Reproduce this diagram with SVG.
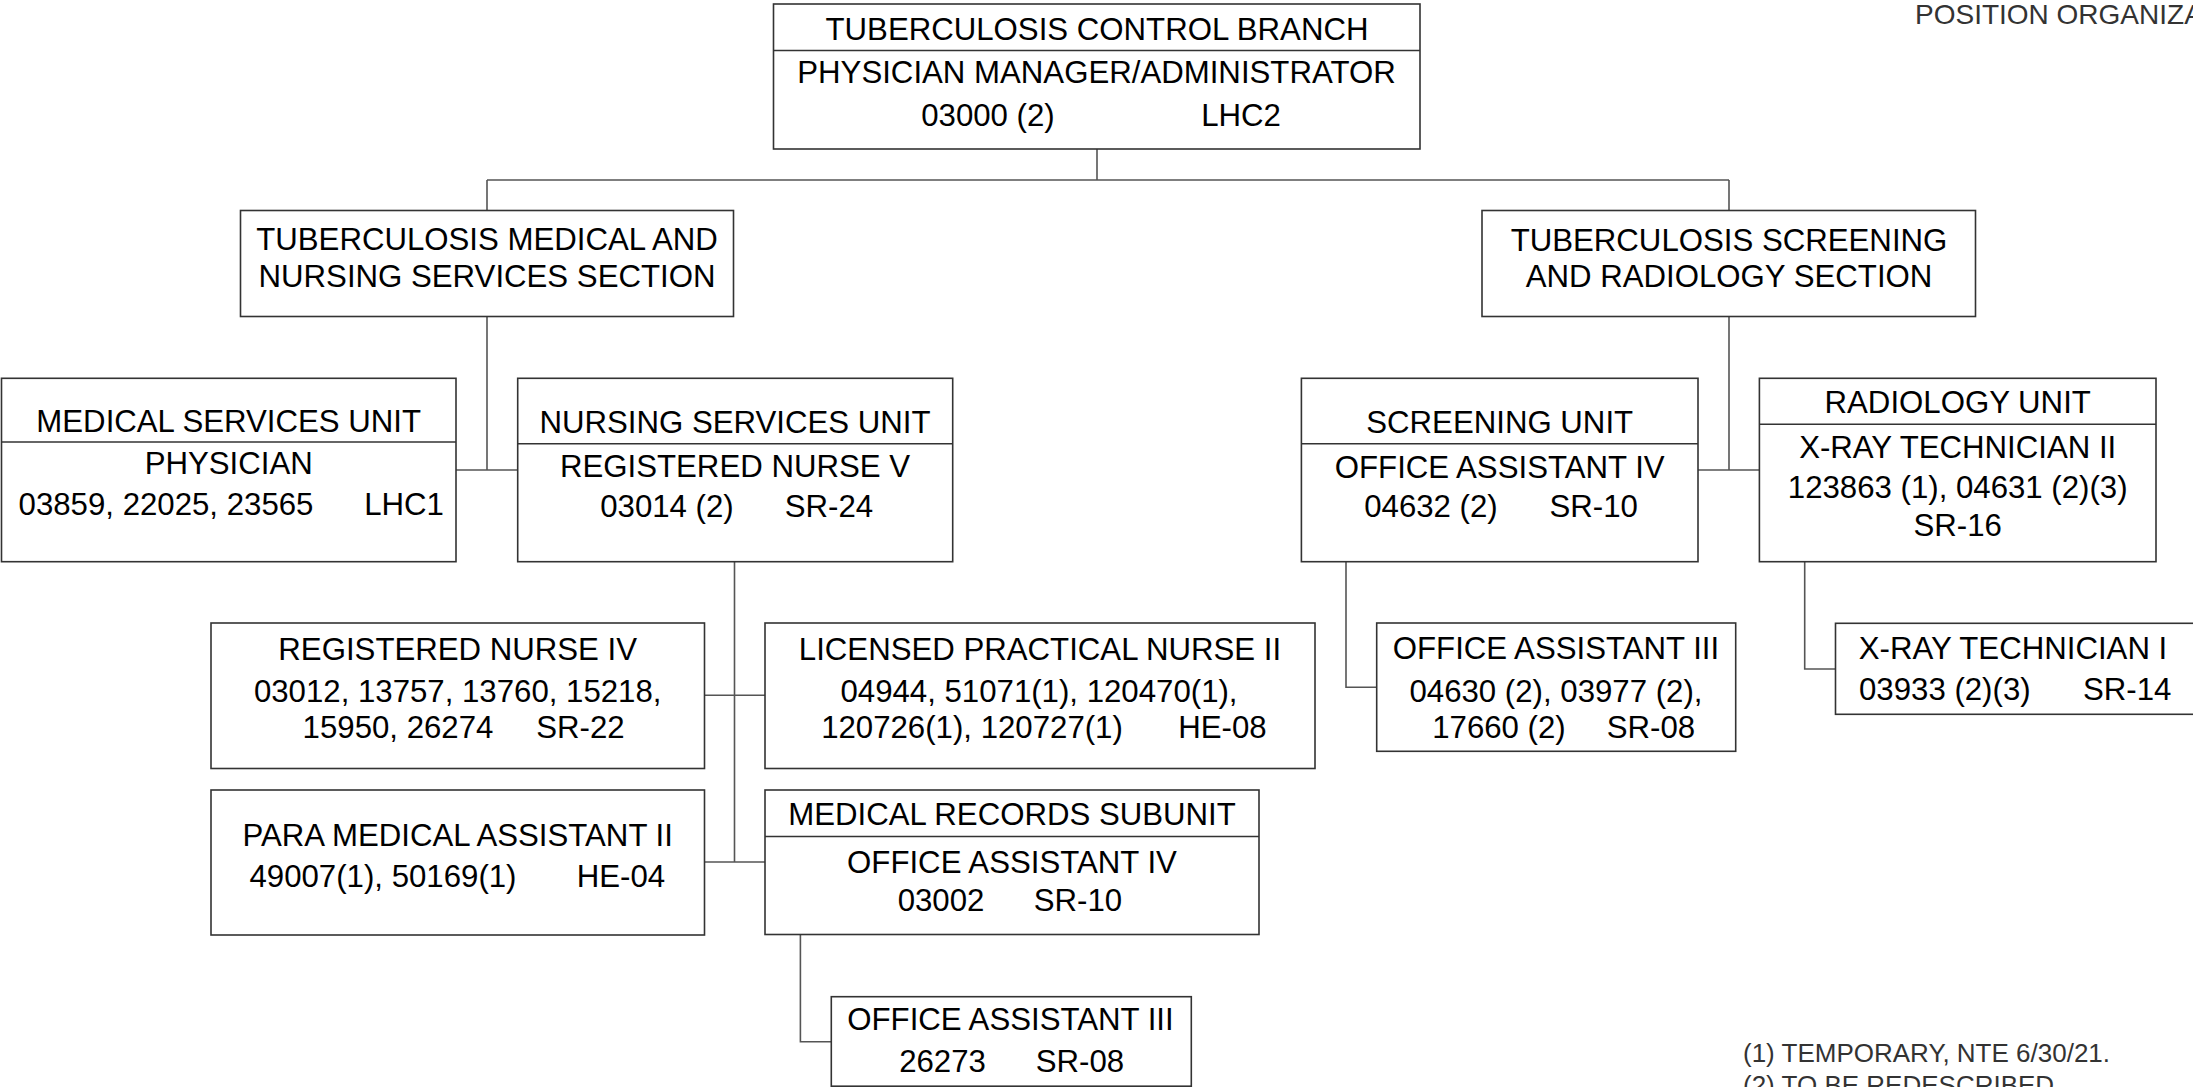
<svg xmlns="http://www.w3.org/2000/svg" width="2193" height="1087" viewBox="0 0 2193 1087">
<style>
.box{fill:#fff;stroke:#333;stroke-width:1.6}
.div{stroke:#333;stroke-width:1.6}
.t{font-family:"Liberation Sans",Arial,sans-serif;font-size:31.2px;fill:#000;text-anchor:middle}
.s{text-anchor:start}
.note{font-family:"Liberation Sans",Arial,sans-serif;fill:#333}
#connectors path{fill:none;stroke:#555;stroke-width:1.6}
</style>
<rect width="2193" height="1087" fill="#fff"/>
<text class="note" x="1915" y="23.5" font-size="28">POSITION ORGANIZA</text>

<g id="connectors">
<path d="M1097,149 V180 M487,180 H1729 M487,180 V210.5 M1729,180 V210.5"/>
<path d="M487,316.5 V470 M456,470 H517.7"/>
<path d="M1729,316.5 V470 M1698,470 H1759.4"/>
<path d="M734.5,561.7 V862 M704.5,695.3 H765 M704.5,862 H765"/>
<path d="M800.4,934.5 V1041.7 H831.3"/>
<path d="M1346,561.7 V687.3 H1376.7"/>
<path d="M1804.7,561.7 V669 H1835.5"/>
</g>

<g id="n-branch">
<rect class="box" x="773.5" y="4" width="646.5" height="145"/>
<line class="div" x1="773.5" y1="50.5" x2="1420" y2="50.5"/>
<text class="t" x="1097" y="39.5">TUBERCULOSIS CONTROL BRANCH</text>
<text class="t" x="1096.5" y="83">PHYSICIAN MANAGER/ADMINISTRATOR</text>
<text class="t" y="126"><tspan x="988">03000 (2)</tspan><tspan x="1241">LHC2</tspan></text>
</g>

<g id="n-med-section">
<rect class="box" x="240.5" y="210.5" width="493" height="106"/>
<text class="t" x="487" y="250">TUBERCULOSIS MEDICAL AND</text>
<text class="t" x="487" y="287">NURSING SERVICES SECTION</text>
</g>

<g id="n-screen-section">
<rect class="box" x="1482" y="210.5" width="493.5" height="106"/>
<text class="t" x="1729" y="251">TUBERCULOSIS SCREENING</text>
<text class="t" x="1729" y="287">AND RADIOLOGY SECTION</text>
</g>

<g id="n-med-unit">
<rect class="box" x="1.5" y="378.3" width="454.5" height="183.4"/>
<line class="div" x1="1.5" y1="442" x2="456" y2="442"/>
<text class="t" x="228.7" y="431.5">MEDICAL SERVICES UNIT</text>
<text class="t" x="228.7" y="474">PHYSICIAN</text>
<text class="t" y="515"><tspan x="166">03859, 22025, 23565</tspan><tspan x="404">LHC1</tspan></text>
</g>

<g id="n-nursing-unit">
<rect class="box" x="517.7" y="378.3" width="435" height="183.4"/>
<line class="div" x1="517.7" y1="443.7" x2="952.7" y2="443.7"/>
<text class="t" x="735" y="433">NURSING SERVICES UNIT</text>
<text class="t" x="735" y="477">REGISTERED NURSE V</text>
<text class="t" y="517"><tspan x="667">03014 (2)</tspan><tspan x="829">SR-24</tspan></text>
</g>

<g id="n-screening-unit">
<rect class="box" x="1301.4" y="378.3" width="396.6" height="183.4"/>
<line class="div" x1="1301.4" y1="443.7" x2="1698" y2="443.7"/>
<text class="t" x="1499.7" y="433">SCREENING UNIT</text>
<text class="t" x="1499.7" y="478">OFFICE ASSISTANT IV</text>
<text class="t" y="517"><tspan x="1431">04632 (2)</tspan><tspan x="1593.7">SR-10</tspan></text>
</g>

<g id="n-radiology-unit">
<rect class="box" x="1759.4" y="378.3" width="396.6" height="183.4"/>
<line class="div" x1="1759.4" y1="424.3" x2="2156" y2="424.3"/>
<text class="t" x="1957.7" y="413">RADIOLOGY UNIT</text>
<text class="t" x="1957.7" y="458">X-RAY TECHNICIAN II</text>
<text class="t" x="1957.7" y="498">123863 (1), 04631 (2)(3)</text>
<text class="t" x="1957.7" y="535.5">SR-16</text>
</g>

<g id="n-rn4">
<rect class="box" x="211" y="623" width="493.5" height="145.5"/>
<text class="t" x="457.7" y="660">REGISTERED NURSE IV</text>
<text class="t" x="457.7" y="701.5">03012, 13757, 13760, 15218,</text>
<text class="t" y="737.7"><tspan x="398">15950, 26274</tspan><tspan x="580.4">SR-22</tspan></text>
</g>

<g id="n-lpn2">
<rect class="box" x="765" y="623" width="550" height="145.5"/>
<text class="t" x="1040" y="660">LICENSED PRACTICAL NURSE II</text>
<text class="t" x="1039" y="701.5">04944, 51071(1), 120470(1),</text>
<text class="t" y="737.7"><tspan x="972">120726(1), 120727(1)</tspan><tspan x="1222.5">HE-08</tspan></text>
</g>

<g id="n-pma2">
<rect class="box" x="211" y="790" width="493.5" height="145"/>
<text class="t" x="457.7" y="846">PARA MEDICAL ASSISTANT II</text>
<text class="t" y="887"><tspan x="383">49007(1), 50169(1)</tspan><tspan x="621">HE-04</tspan></text>
</g>

<g id="n-med-records">
<rect class="box" x="765" y="790" width="494" height="144.5"/>
<line class="div" x1="765" y1="836.5" x2="1259" y2="836.5"/>
<text class="t" x="1012" y="825">MEDICAL RECORDS SUBUNIT</text>
<text class="t" x="1012" y="873">OFFICE ASSISTANT IV</text>
<text class="t" y="911"><tspan x="941">03002</tspan><tspan x="1078">SR-10</tspan></text>
</g>

<g id="n-oa3-records">
<rect class="box" x="831.3" y="996.7" width="360" height="89.5"/>
<text class="t" x="1010.5" y="1030">OFFICE ASSISTANT III</text>
<text class="t" y="1071.7"><tspan x="942.5">26273</tspan><tspan x="1080">SR-08</tspan></text>
</g>

<g id="n-oa3-screening">
<rect class="box" x="1376.7" y="623" width="359" height="128.3"/>
<text class="t" x="1556" y="659">OFFICE ASSISTANT III</text>
<text class="t" x="1556" y="701.5">04630 (2), 03977 (2),</text>
<text class="t" y="738"><tspan x="1499">17660 (2)</tspan><tspan x="1651">SR-08</tspan></text>
</g>

<g id="n-xray1">
<rect class="box" x="1835.5" y="623.3" width="360" height="91"/>
<text class="t" x="2013" y="658.5">X-RAY TECHNICIAN I</text>
<text class="t s" y="700"><tspan x="1859">03933 (2)(3)</tspan><tspan x="2083">SR-14</tspan></text>
</g>

<g id="notes">
<text class="note" x="1743" y="1061.5" font-size="26">(1) TEMPORARY, NTE 6/30/21.</text>
<text class="note" x="1743" y="1093.5" font-size="26">(2) TO BE REDESCRIBED</text>
</g>
</svg>
